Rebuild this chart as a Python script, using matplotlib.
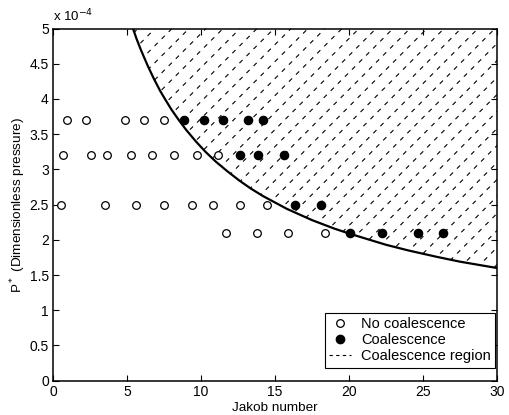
import numpy as np
import matplotlib
matplotlib.use("Agg")
import matplotlib.pyplot as plt
from matplotlib.lines import Line2D
from matplotlib.patches import Polygon

plt.rcParams['font.family'] = ['Liberation Sans', 'DejaVu Sans']

# Experimental runs (Jakob number, dimensionless pressure in units of 1e-4)
no_coal_ja = [0.93, 2.23, 4.89, 6.17, 7.50,
              0.70, 2.55, 3.67, 5.27, 6.67, 8.18, 9.71, 11.17,
              0.54, 3.51, 5.61, 7.50, 9.37, 10.83, 12.64, 14.43,
              11.69, 13.80, 15.90, 18.38]
no_coal_p = [3.7, 3.7, 3.7, 3.7, 3.7,
             3.2, 3.2, 3.2, 3.2, 3.2, 3.2, 3.2, 3.2,
             2.5, 2.5, 2.5, 2.5, 2.5, 2.5, 2.5, 2.5,
             2.1, 2.1, 2.1, 2.1]

coal_ja = [8.85, 10.22, 11.51, 13.16, 14.21,
           12.64, 13.87, 15.63,
           16.35, 18.11,
           20.07, 22.21, 24.68, 26.33]
coal_p = [3.7, 3.7, 3.7, 3.7, 3.7,
          3.2, 3.2, 3.2,
          2.5, 2.5,
          2.1, 2.1, 2.1, 2.1]

# Boundary of the coalescence region
boundary_ja = [5.40, 5.65, 5.93, 6.40, 6.83, 7.25, 7.62, 8.00, 8.50, 9.00, 9.64,
               10.30, 11.00, 11.80, 12.60, 13.35, 14.20, 15.00, 15.80,
               17.50, 19.00, 20.00, 21.40, 22.50, 24.00, 25.90, 27.50, 30.00]
boundary_p = [5.00, 4.85, 4.70, 4.47, 4.28, 4.11, 3.98, 3.85, 3.70, 3.56, 3.40,
              3.25, 3.11, 2.97, 2.84, 2.73, 2.62, 2.53, 2.44,
              2.28, 2.16, 2.09, 2.00, 1.93, 1.85, 1.76, 1.69, 1.60]

x_ticks = [0, 5, 10, 15, 20, 25, 30]
y_ticks = [0, 0.5, 1, 1.5, 2, 2.5, 3, 3.5, 4, 4.5, 5]
y_ticklabels = ['0', '0.5', '1', '1.5', '2', '2.5', '3', '3.5', '4', '4.5', '5']

fig = plt.figure(figsize=(5.10, 4.15), dpi=100)
ax = fig.add_axes([0.104, 0.0826, 0.8705, 0.8487])
ax.set_xlim(0, 30)
ax.set_ylim(0, 5)

# Hatched coalescence region: dashed diagonal lines clipped to the area above the boundary
region = Polygon(list(zip(boundary_ja, boundary_p)) + [(30, 5)], closed=True,
                 facecolor='none', edgecolor='none', transform=ax.transData)
ax.add_patch(region)
bbox = ax.get_position()
fig_w, fig_h = fig.get_size_inches() * fig.dpi
ax_w_px = bbox.width * fig_w
ax_h_px = bbox.height * fig_h
spacing_px = 17.0
for off in np.arange(-ax_h_px, ax_w_px + spacing_px, spacing_px):
    x0, y0 = off / ax_w_px, 0.0
    x1, y1 = (off + ax_h_px) / ax_w_px, 1.0
    hl = Line2D([x0, x1], [y0, y1], transform=ax.transAxes, color='black',
                lw=0.8, linestyle=(0, (4, 5)), zorder=1)
    hl.set_clip_path(region)
    ax.add_line(hl)

ax.plot(boundary_ja, boundary_p, color='black', lw=1.6, zorder=2)

ax.plot(no_coal_ja, no_coal_p, linestyle='none', marker='o', markersize=5.5,
        markerfacecolor='white', markeredgecolor='black', markeredgewidth=0.9, zorder=3)
ax.plot(coal_ja, coal_p, linestyle='none', marker='o', markersize=6,
        markerfacecolor='black', markeredgecolor='black', markeredgewidth=0.9, zorder=3)

ax.set_xticks(x_ticks)
ax.set_yticks(y_ticks)
ax.set_yticklabels(y_ticklabels)
ax.tick_params(direction='in', length=4, width=0.8, top=True, right=True,
               labelsize=10, pad=3)
for s in ax.spines.values():
    s.set_linewidth(1.1)

ax.set_xlabel('Jakob number', fontsize=9.7, labelpad=2)
ax.set_ylabel('P$^*$ (Dimensionless pressure)', fontsize=9.7, labelpad=1)
ax.text(0.0, 1.012, r'x 10$^{-4}$', transform=ax.transAxes, fontsize=9.5,
        ha='left', va='bottom')

handles = [
    Line2D([], [], linestyle='none', marker='o', markersize=5.5,
           markerfacecolor='white', markeredgecolor='black', markeredgewidth=0.9),
    Line2D([], [], linestyle='none', marker='o', markersize=6,
           markerfacecolor='black', markeredgecolor='black'),
    Line2D([], [], color='black', lw=0.8, linestyle=(0, (3, 3))),
]
labels = ['No coalescence', 'Coalescence', 'Coalescence region']
leg = ax.legend(handles, labels, loc='lower right', bbox_to_anchor=(0.996, 0.037),
                borderaxespad=0, fontsize=10.5, frameon=True, fancybox=False,
                edgecolor='black', handlelength=1.5, handletextpad=0.7,
                labelspacing=0.15, borderpad=0.3)
leg.get_frame().set_linewidth(0.8)
leg.get_frame().set_alpha(1)

fig.savefig('out.png', dpi=100)
